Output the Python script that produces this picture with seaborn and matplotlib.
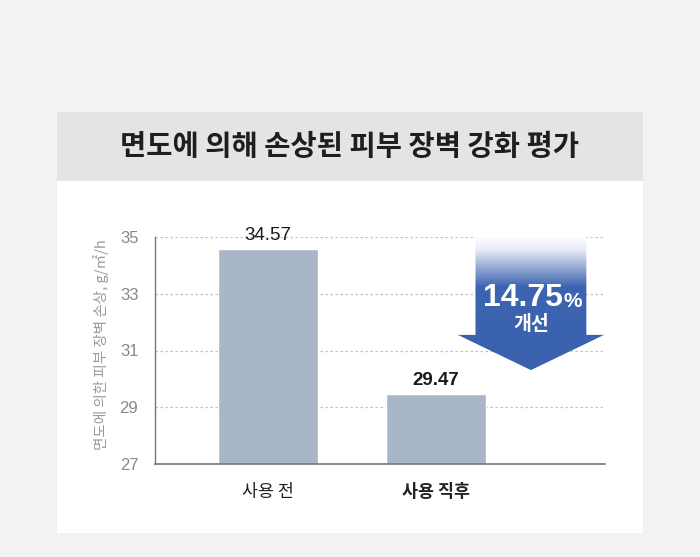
import numpy as np
import matplotlib
matplotlib.use('Agg')
import matplotlib.pyplot as plt
import seaborn as sns
from matplotlib.patches import Rectangle, Polygon
from matplotlib.colors import LinearSegmentedColormap

# Data
categories = ['사용 전', '사용 직후']
values = [34.57, 29.47]
yticks = [27, 29, 31, 33, 35]
title = '면도에 의해 손상된 피부 장벽 강화 평가'
ylabel = '면도에 의한 피부 장벽 손상, g/㎡/h'
improve_value = '14.75'
improve_unit = '%'
improve_sub = '개선'

sns.set_style('white')
plt.rcParams['font.family'] = ['Noto Sans CJK KR', 'DejaVu Sans']
num_font = ['Liberation Sans', 'DejaVu Sans']

fig = plt.figure(figsize=(7, 5.57), dpi=100)
fig.patch.set_facecolor('#f2f2f2')

# white card and grey title band
fig.patches.append(Rectangle((57 / 700, 1 - 533 / 557), 586 / 700, 421 / 557,
                             transform=fig.transFigure, facecolor='white', edgecolor='none', zorder=-2))
fig.patches.append(Rectangle((57 / 700, 1 - 181 / 557), 586 / 700, 69 / 557,
                             transform=fig.transFigure, facecolor='#e4e4e4', edgecolor='none', zorder=-1))
fig.text(0.5, 1 - 147 / 557, title, ha='center', va='center', fontsize=20.5,
         fontweight='bold', color='#1e1e1e')

ax = fig.add_axes([155 / 700, 1 - 464 / 557, 450 / 700, 227 / 557])
ax.set_facecolor('white')

sns.barplot(x=categories, y=values, color='#a8b6c8', saturation=1, width=0.595, ax=ax, zorder=2)

# value labels
for i, v in enumerate(values):
    ax.annotate(f'{v:.2f}', (i, v), xytext=(0, 10), textcoords='offset points',
                ha='center', va='center', fontsize=13.5, color='#1a1a1a', family=num_font,
                fontweight='normal' if i == 0 else 'bold')

ax.set_ylim(27, 35)
ax.set_xlim(-0.673, 2.006)
ax.set_yticks(yticks)
ax.yaxis.grid(True, linestyle=(0, (2, 2)), color='#c4c4c4', linewidth=0.9)
ax.set_axisbelow(True)
ax.tick_params(axis='y', length=0, pad=12, labelsize=12, labelcolor='#888888')
ax.tick_params(axis='x', length=0, pad=14, labelsize=12.5, labelcolor='#222222')
for t in ax.get_yticklabels():
    t.set_family(num_font)
ax.get_xticklabels()[1].set_fontweight('bold')
for s in ['top', 'right']:
    ax.spines[s].set_visible(False)
ax.spines['left'].set_color('#777777')
ax.spines['bottom'].set_color('#777777')
ax.spines['left'].set_linewidth(1.0)
ax.spines['bottom'].set_linewidth(1.2)
ax.set_ylabel(ylabel, fontsize=10.5, color='#9a9a9a')
ax.yaxis.set_label_coords(-0.102, 0.525)

# improvement arrow with gradient
cx, shaft, head = 1.565, 0.33, 0.435
top, neck, tip = 35.0, 31.55, 30.31
arrow = Polygon([(cx - shaft, top), (cx + shaft, top), (cx + shaft, neck), (cx + head, neck),
                 (cx, tip), (cx - head, neck), (cx - shaft, neck)], closed=True,
                facecolor='none', edgecolor='none', transform=ax.transData)
ax.add_patch(arrow)
cmap = LinearSegmentedColormap.from_list('arr', [(0, '#ffffff'), (0.1, '#e8ecf6'),
                                                 (0.38, '#3c64b1'), (1, '#3a61ae')])
grad = np.linspace(0, 1, 256).reshape(-1, 1)
im = ax.imshow(grad, cmap=cmap, aspect='auto', extent=[cx - head, cx + head, tip, top],
               origin='upper', zorder=3)
im.set_clip_path(arrow)
ax.set_ylim(27, 35)
ax.set_xlim(-0.673, 2.006)

ax.annotate(improve_value, (cx, 32.85), xytext=(23, 0), textcoords='offset points',
            ha='right', va='center', fontsize=23, fontweight='bold', color='white',
            family=num_font, zorder=4)
ax.annotate(improve_unit, (cx, 32.85), xytext=(23.5, -2.5), textcoords='offset points',
            ha='left', va='center', fontsize=15, fontweight='bold', color='white',
            family=num_font, zorder=4)
ax.text(cx, 31.9, improve_sub, ha='center', va='center', fontsize=14, fontweight='bold',
        color='white', zorder=4)

fig.savefig('out.png', dpi=100, facecolor=fig.get_facecolor())
